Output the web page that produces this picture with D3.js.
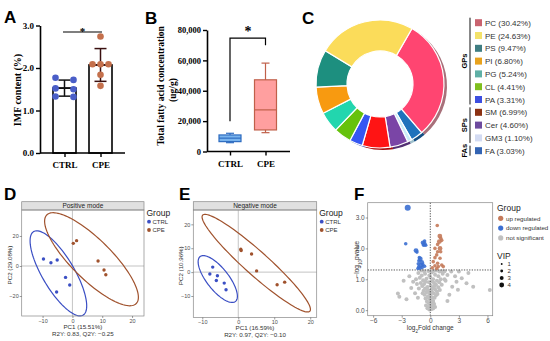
<!DOCTYPE html>
<html>
<head>
<meta charset="utf-8">
<script src="https://cdn.jsdelivr.net/npm/d3@7"></script>
<style>
  body { margin: 0; background: #fff; }
  svg { display: block; }
</style>
</head>
<body>
<div id="chart"></div>
<script>
// ---------- data ----------
const groups = ["CTRL", "CPE"];

// A: IMF content (%)
const imfCtrl = [1.77, 1.72, 1.52, 1.50, 1.33, 1.32];
const imfCpe = [2.74, 2.09, 2.09, 2.09, 1.84, 1.58];
const imfTicks = [0, 1, 2, 3];

// B: total fatty acid, [min, q1, median, q3, max]
const faCtrl = [5800, 6500, 8800, 10900, 12000];
const faCpe = [12400, 14200, 27400, 47200, 58200];
const faTicks = [0, 20000, 40000, 60000, 80000];

// C: lipid classes
const lipidNames = ["PC", "PE", "PS", "PI", "PG", "CL", "PA", "SM", "Cer", "GM3", "FA"];
const lipidPct = [30.42, 24.63, 9.47, 6.80, 5.24, 4.41, 3.31, 6.99, 4.60, 1.10, 3.03];
const lipidClass = ["GPs", "GPs", "GPs", "GPs", "GPs", "GPs", "GPs", "SPs", "SPs", "SPs", "FAs"];
const sliceOrder = ["PC", "FA", "GM3", "Cer", "SM", "PA", "CL", "PG", "PI", "PS", "PE"];
const legendColors = ["#c9636f", "#f3e26a", "#3f7d82", "#e8a21d", "#5fb0a6", "#7fbf1e", "#3d4fe0", "#8b3112", "#6e4b9e", "#d3dbf2", "#3364b3"];
const sliceColors = ["#ff4571", "#fbdc5a", "#1d8f7f", "#f89a10", "#22d6ae", "#66c20c", "#3557f2", "#ff1414", "#7a45a6", "#c9ecf8", "#1f72bc"];
const sliceShade = ["#a8707a", "#c9b048", "#2d6660", "#b5740c", "#1a9c80", "#4a8c0a", "#2640b0", "#a80d0d", "#532f73", "#9fc0cc", "#154f84"];

// D / E: PCA scores
const pcaPosCtrl = [[-9.7, 4.7], [-7.2, 2.2], [-5.1, 4.0], [-2.3, -7.6], [-0.9, -12.7], [-5.3, -17.3]];
const pcaPosCpe = [[0.3, 15.1], [1.4, 16.9], [8.6, 3.3], [10.6, -2.7], [11.2, -5.8]];
const pcaNegCtrl = [[-7.1, 2.1], [-7.9, -0.8], [-5.8, -1.5], [-6.1, -3.5], [-3.9, -4.6], [-3.4, -7.4]];
const pcaNegCpe = [[0.7, 9.6], [0.8, 9.0], [3.7, 7.6], [5.1, 0.5], [10.8, -5.3], [12.9, -4.2]];
// ellipse: centre, semi-major vector, semi-minor vector (data units)
const ellipsePos = [
  { g: "CTRL", c: [-4.7, -4.9], a: [8.3, -27.8], b: [-4.6, -5.5] },
  { g: "CPE", c: [6.4, 4.5], a: [15, -29.5], b: [-4.7, -9.5] }
];
const ellipseNeg = [
  { g: "CTRL", c: [-5.7, -2.9], a: [4.9, -9.4], b: [-2.4, -2.8] },
  { g: "CPE", c: [5.0, 3.75], a: [14.9, -20.1], b: [-2.2, -3.7] }
];

// F: volcano, [log2FC, -log10 p, VIP]
const volDown = [[-2.37, 3.32, 4], [-2.58, 2.15, 2], [-1.5, 1.93, 3], [-1.4, 1.88, 2], [-0.76, 2.18, 3], [-0.62, 2.14, 3],
  [-0.48, 2.1, 2], [-0.7, 2.1, 2], [-0.6, 2.24, 2], [-1.15, 1.70, 2], [-1.05, 1.66, 3], [-1.2, 1.6, 2], [-0.9, 1.55, 3],
  [-1.26, 1.5, 2], [-0.78, 1.48, 2], [-1.0, 1.45, 3], [-1.22, 1.40, 2], [-0.85, 1.38, 2], [-1.1, 1.36, 2], [-0.6, 1.42, 2], [-1.3, 1.35, 2]];
const volUp = [[0.73, 2.74, 2], [1.0, 2.4, 3], [1.1, 2.33, 2], [0.95, 2.22, 3], [1.2, 2.26, 2], [0.77, 2.13, 2], [0.49, 2.0, 2],
  [1.02, 2.0, 3], [0.77, 1.89, 2], [1.09, 1.89, 2], [0.67, 1.79, 2], [0.49, 1.70, 2], [1.02, 1.68, 2], [0.31, 1.57, 2],
  [0.77, 1.52, 2], [1.2, 1.46, 2], [0.49, 1.44, 2], [0.84, 1.41, 2], [1.36, 1.41, 2], [0.21, 1.37, 2], [0.67, 1.35, 2]];
const volNs = [[-0.1, 0.02], [0.1, 0.03], [0.0, 0.08], [-0.2, 0.1], [0.2, 0.12], [0.3, 0.05], [-0.3, 0.06], [0.05, 0.18],
  [-0.15, 0.22], [0.25, 0.25], [-0.35, 0.28], [0.4, 0.2], [0.1, 0.3], [-0.05, 0.35], [-0.45, 0.15], [0.5, 0.1],
  [-0.5, 0.38], [0.45, 0.4], [0.2, 0.42], [-0.25, 0.45], [0.6, 0.48], [-0.6, 0.5], [0.0, 0.5], [0.35, 0.55], [-0.4, 0.58],
  [0.15, 0.6], [-0.15, 0.62], [0.7, 0.6], [-0.7, 0.63], [0.5, 0.68], [-0.55, 0.7], [0.25, 0.72], [-0.3, 0.75], [0.85, 0.74],
  [-0.85, 0.78], [0.05, 0.8], [0.6, 0.82], [-0.65, 0.85], [0.4, 0.88], [-0.15, 0.9], [0.95, 0.9], [-1.0, 0.88],
  [0.7, 0.95], [-0.75, 0.97], [0.3, 1.0], [-0.4, 1.02], [1.1, 1.0], [-1.1, 1.05], [0.0, 1.07], [0.85, 1.1], [-0.9, 1.12],
  [0.5, 1.15], [-0.55, 1.18], [1.3, 1.18], [-1.25, 1.2], [0.15, 1.22], [0.95, 1.25], [-0.2, 1.27], [-0.95, 1.28],
  [0.6, 1.28], [1.5, 1.26], [-0.05, 0.55], [0.3, 0.3], [-0.2, 0.4], [0.1, 0.65], [-0.35, 0.68], [0.45, 0.78],
  [-0.5, 0.92], [0.2, 0.93], [-0.1, 1.12], [0.35, 1.27], [-0.65, 1.26], [0.75, 0.52], [-0.8, 0.55], [1.0, 0.65],
  [-1.2, 0.7], [1.2, 0.82], [-1.4, 0.85], [1.6, 0.95], [-1.5, 1.0], [-3.4, 0.54], [-3.25, 0.43], [-2.2, 1.1],
  [-1.8, 0.92], [-1.6, 0.55], [-2.0, 0.72], [2.6, 1.1], [2.75, 0.92], [3.3, 1.03], [3.8, 0.87], [4.5, 0.76],
  [2.9, 0.66], [6.25, 0.65], [2.3, 0.76], [1.8, 1.14], [1.2, 1.26], [1.5, 1.0], [2.0, 0.5], [-2.5, 0.35], [1.8, 0.3],
  [3.0, 1.25], [-1.3, 0.4], [4.0, 1.2], [2.2, 1.25], [-2.8, 0.95]];
const vipLevels = [1, 2, 3, 4];

// ---------- setup ----------
const serif = "'Liberation Serif','Times New Roman',serif";
const sans = "'Liberation Sans',Arial,sans-serif";
const svg = d3.select("#chart").append("svg").attr("width", 550).attr("height", 341);

function panelLabel(t, x, y) {
  svg.append("text").attr("x", x).attr("y", y).text(t)
    .style("font-family", sans).style("font-weight", "bold").style("font-size", "17px");
}
function styleBold(g) {
  g.select(".domain").attr("stroke", "#000").attr("stroke-width", 1.6);
  g.selectAll(".tick line").attr("stroke", "#000").attr("stroke-width", 1.4);
  g.selectAll(".tick text").style("font-family", serif).style("font-weight", "bold")
    .style("font-size", "9px").attr("fill", "#000");
}
function styleGg(g) {
  g.select(".domain").remove();
  g.selectAll(".tick line").attr("stroke", "#555").attr("stroke-width", 0.6);
  g.selectAll(".tick text").style("font-family", sans).style("font-size", "5.5px").attr("fill", "#4d4d4d");
}
const mean = a => d3.mean(a);
const sd = a => d3.deviation(a);

// spread equal-ish values horizontally
function dodge(vals) {
  const s = vals.slice().sort((a, b) => b - a);
  const out = [];
  let i = 0;
  while (i < s.length) {
    let j = i;
    while (j + 1 < s.length && s[j] - s[j + 1] < 0.08) j++;
    const n = j - i + 1, step = n === 2 ? 18 : 8;
    for (let k = 0; k < n; k++) out.push({ v: s[i + k], dx: (k - (n - 1) / 2) * step });
    i = j + 1;
  }
  return out;
}

// ---------- A ----------
panelLabel("A", 4, 23);
const yA = d3.scaleLinear().domain([0, 3]).range([153, 25.5]);
const xA = d3.scalePoint().domain(groups).range([64.5, 100.5]);
const dotColA = { CTRL: "#4a5ec8", CPE: "#c4704c" };
const imf = { CTRL: imfCtrl, CPE: imfCpe };

const gA = svg.append("g");
gA.selectAll("rect.bar").data(groups).enter().append("rect")
  .attr("x", d => xA(d) - 11.5).attr("width", 23)
  .attr("y", d => yA(mean(imf[d]))).attr("height", d => yA(0) - yA(mean(imf[d])))
  .attr("fill", "#fff").attr("stroke", "#000").attr("stroke-width", 1.6);

groups.forEach(gname => {
  const m = mean(imf[gname]), s = sd(imf[gname]), cx = xA(gname);
  const col = gname === "CTRL" ? "#111" : "#3a1010";
  gA.append("line").attr("x1", cx).attr("x2", cx).attr("y1", yA(m + s)).attr("y2", yA(m - s))
    .attr("stroke", col).attr("stroke-width", 1.5);
  [m + s, m - s].forEach(v => gA.append("line").attr("x1", cx - 6).attr("x2", cx + 6)
    .attr("y1", yA(v)).attr("y2", yA(v)).attr("stroke", col).attr("stroke-width", 1.5));
  gA.append("line").attr("x1", cx - 11).attr("x2", cx + 11).attr("y1", yA(m)).attr("y2", yA(m))
    .attr("stroke", col).attr("stroke-width", 1.5);
  gA.selectAll(null).data(dodge(imf[gname])).enter().append("circle")
    .attr("cx", d => cx + d.dx).attr("cy", d => yA(d.v)).attr("r", 3.3)
    .attr("fill", dotColA[gname]);
});

gA.append("g").attr("transform", "translate(40,0)")
  .call(d3.axisLeft(yA).tickValues(imfTicks).tickSize(4).tickSizeOuter(0).tickPadding(2))
  .call(styleBold);
const axA = gA.append("g").attr("transform", "translate(0,153)")
  .call(d3.axisBottom(xA).tickSize(4).tickSizeOuter(0).tickPadding(5)).call(styleBold);
axA.select(".domain").remove();
gA.append("line").attr("x1", 40).attr("x2", 125).attr("y1", 153).attr("y2", 153)
  .attr("stroke", "#000").attr("stroke-width", 1.6);
gA.append("text").attr("transform", "translate(21,90) rotate(-90)").attr("text-anchor", "middle")
  .style("font-family", serif).style("font-weight", "bold").style("font-size", "10px")
  .text("IMF content (%)");
gA.append("line").attr("x1", 63).attr("x2", 102).attr("y1", 32).attr("y2", 32)
  .attr("stroke", "#000").attr("stroke-width", 1.2);
gA.append("text").attr("x", 82.5).attr("y", 35).attr("text-anchor", "middle")
  .style("font-family", serif).style("font-weight", "bold").style("font-size", "11px").text("*");

// ---------- B ----------
panelLabel("B", 145, 24);
const yB = d3.scaleLinear().domain([0, 80000]).range([151.5, 30]);
const xB = d3.scalePoint().domain(groups).range([230, 265.5]);
const fa = { CTRL: faCtrl, CPE: faCpe };
const boxStyle = { CTRL: { fill: "#79b4ee", stroke: "#2e6cc0" }, CPE: { fill: "#ff9f9f", stroke: "#c0604a" } };
const gB = svg.append("g");
groups.forEach(gname => {
  const v = fa[gname], cx = xB(gname), st = boxStyle[gname], w = 22;
  gB.append("line").attr("x1", cx).attr("x2", cx).attr("y1", yB(v[4])).attr("y2", yB(v[0]))
    .attr("stroke", st.stroke).attr("stroke-width", 1.2);
  [v[0], v[4]].forEach(t => gB.append("line").attr("x1", cx - 4).attr("x2", cx + 4)
    .attr("y1", yB(t)).attr("y2", yB(t)).attr("stroke", st.stroke).attr("stroke-width", 1.2));
  gB.append("rect").attr("x", cx - w / 2).attr("width", w).attr("y", yB(v[3])).attr("height", yB(v[1]) - yB(v[3]))
    .attr("fill", st.fill).attr("stroke", st.stroke).attr("stroke-width", 1.2);
  gB.append("line").attr("x1", cx - w / 2).attr("x2", cx + w / 2).attr("y1", yB(v[2])).attr("y2", yB(v[2]))
    .attr("stroke", st.stroke).attr("stroke-width", 1.2);
});
gB.append("g").attr("transform", "translate(207,0)")
  .call(d3.axisLeft(yB).tickValues(faTicks).tickFormat(d3.format(",")).tickSize(4).tickSizeOuter(0).tickPadding(2))
  .call(styleBold);
gB.selectAll(".tick text").style("font-size", "8.5px");
const axB = gB.append("g").attr("transform", "translate(0,151.5)")
  .call(d3.axisBottom(xB).tickSize(4).tickSizeOuter(0).tickPadding(5)).call(styleBold);
axB.select(".domain").remove();
gB.append("line").attr("x1", 207).attr("x2", 290).attr("y1", 151.5).attr("y2", 151.5)
  .attr("stroke", "#000").attr("stroke-width", 1.6);
gB.append("text").attr("transform", "translate(164,86) rotate(-90)").attr("text-anchor", "middle")
  .style("font-family", serif).style("font-weight", "bold").style("font-size", "9.5px")
  .text("Total fatty acid concentration");
gB.append("text").attr("transform", "translate(176,90) rotate(-90)").attr("text-anchor", "middle")
  .style("font-family", serif).style("font-weight", "bold").style("font-size", "9.5px")
  .text("(ug/g)");
gB.append("path")
  .attr("d", `M${xB("CTRL")},${yB(20000)}V${yB(74700)}H${xB("CPE")}V${yB(70000)}`)
  .attr("fill", "none").attr("stroke", "#000").attr("stroke-width", 1.2);
gB.append("text").attr("x", 248).attr("y", 36).attr("text-anchor", "middle")
  .style("font-family", serif).style("font-weight", "bold").style("font-size", "14px").text("*");

// ---------- C ----------
panelLabel("C", 302, 24);
const lipids = lipidNames.map((n, i) => ({ name: n, pct: lipidPct[i], cls: lipidClass[i], i }));
const pie = d3.pie().sort(null).value(d => d.pct)
  .startAngle(Math.PI / 6).endAngle(Math.PI / 6 + 2 * Math.PI);
const arcs = pie(sliceOrder.map(n => lipids.find(l => l.name === n)));
const cxC = 380, cyC = 84, rOut = 64, rIn = 33;
const arcMain = d3.arc().innerRadius(rIn).outerRadius(rOut);
const arcRim = d3.arc().innerRadius(rOut - 10).outerRadius(rOut);
svg.append("g").attr("transform", `translate(${cxC + 3},${cyC + 2})`)
  .selectAll("path").data(arcs).enter().append("path")
  .attr("d", arcRim).attr("fill", d => sliceShade[d.data.i]);
svg.append("g").attr("transform", `translate(${cxC},${cyC})`)
  .selectAll("path").data(arcs).enter().append("path")
  .attr("d", arcMain).attr("fill", d => sliceColors[d.data.i])
  .attr("stroke", "#fff").attr("stroke-width", 1.2);

const yLeg = d3.scalePoint().domain(lipidNames).range([22.7, 150.7]);
const gC = svg.append("g");
gC.selectAll("rect").data(lipids).enter().append("rect")
  .attr("x", 475).attr("y", d => yLeg(d.name) - 3.5).attr("width", 7).attr("height", 7)
  .attr("fill", d => legendColors[d.i]);
gC.selectAll("text.lab").data(lipids).enter().append("text")
  .attr("x", 485).attr("y", d => yLeg(d.name) + 3)
  .style("font-family", sans).style("font-size", "8px").attr("fill", "#333")
  .text(d => `${d.name} (${d.pct.toFixed(2)}%)`);
["GPs", "SPs", "FAs"].forEach(c => {
  const mem = lipids.filter(l => l.cls === c);
  const y0 = yLeg(mem[0].name) - 5, y1 = yLeg(mem[mem.length - 1].name) + 5;
  gC.append("line").attr("x1", 470).attr("x2", 470).attr("y1", y0).attr("y2", y1)
    .attr("stroke", "#111").attr("stroke-width", 1);
  gC.append("text").attr("transform", `translate(467,${(y0 + y1) / 2}) rotate(-90)`)
    .attr("text-anchor", "middle").style("font-family", sans).style("font-weight", "bold")
    .style("font-size", "7.5px").text(c);
});

// ---------- D / E ----------
const pcaCol = { CTRL: "#3b4fc4", CPE: "#a0522d" };
function drawPca(o) {
  const g = svg.append("g");
  const x = d3.scaleLinear().domain(o.xd).range([o.l, o.r]);
  const y = d3.scaleLinear().domain(o.yd).range([o.b, o.t]);
  g.append("rect").attr("x", o.l).attr("y", o.t - 8.3).attr("width", o.r - o.l).attr("height", 8.3)
    .attr("fill", "#e0e0e0").attr("stroke", "#888").attr("stroke-width", 0.7);
  g.append("text").attr("x", (o.l + o.r) / 2).attr("y", o.t - 2).attr("text-anchor", "middle")
    .style("font-family", sans).style("font-size", "6.5px").attr("fill", "#222").text(o.strip);
  g.append("line").attr("x1", x(0)).attr("x2", x(0)).attr("y1", o.t).attr("y2", o.b).attr("stroke", "#aaa").attr("stroke-width", 0.7);
  g.append("line").attr("x1", o.l).attr("x2", o.r).attr("y1", y(0)).attr("y2", y(0)).attr("stroke", "#aaa").attr("stroke-width", 0.7);
  const line = d3.line().x(p => x(p[0])).y(p => y(p[1])).curve(d3.curveLinearClosed);
  o.ell.forEach(e => {
    const pts = d3.range(0, 2 * Math.PI, Math.PI / 60).map(t => [
      e.c[0] + e.a[0] * Math.cos(t) + e.b[0] * Math.sin(t),
      e.c[1] + e.a[1] * Math.cos(t) + e.b[1] * Math.sin(t)]);
    g.append("path").attr("d", line(pts)).attr("fill", "none").attr("stroke", pcaCol[e.g]).attr("stroke-width", 1.2);
  });
  [["CTRL", o.ctrl], ["CPE", o.cpe]].forEach(([gn, pts]) => {
    g.selectAll(null).data(pts).enter().append("circle")
      .attr("cx", p => x(p[0])).attr("cy", p => y(p[1])).attr("r", 1.7).attr("fill", pcaCol[gn]);
  });
  g.append("rect").attr("x", o.l).attr("y", o.t).attr("width", o.r - o.l).attr("height", o.b - o.t)
    .attr("fill", "none").attr("stroke", "#888").attr("stroke-width", 0.7);
  g.append("g").attr("transform", `translate(0,${o.b})`)
    .call(d3.axisBottom(x).tickValues(o.xt).tickSize(2).tickPadding(0.8).tickFormat(d3.format("d"))).call(styleGg);
  g.append("g").attr("transform", `translate(${o.l},0)`)
    .call(d3.axisLeft(y).tickValues(o.yt).tickSize(2).tickPadding(1).tickFormat(d3.format("d"))).call(styleGg);
  const cxT = (o.l + o.r) / 2;
  g.append("text").attr("x", cxT).attr("y", o.b + 12.5).attr("text-anchor", "middle")
    .style("font-family", sans).style("font-size", "6.2px").attr("fill", "#333").text(o.xlab);
  g.append("text").attr("x", cxT).attr("y", o.b + 19.5).attr("text-anchor", "middle")
    .style("font-family", sans).style("font-size", "6.2px").attr("fill", "#333").text(o.sub);
  g.append("text").attr("transform", `translate(${o.l - 10},${(o.t + o.b) / 2 + 2}) rotate(-90)`)
    .attr("text-anchor", "middle").style("font-family", sans).style("font-size", "6.2px").attr("fill", "#333").text(o.ylab);
  g.append("text").attr("x", o.r + 2.5).attr("y", o.t + 6).style("font-family", sans).style("font-size", "8.5px")
    .attr("fill", "#222").text("Group");
  groups.forEach((gn, i) => {
    g.append("circle").attr("cx", o.r + 5).attr("cy", o.t + 11.7 + i * 8.3).attr("r", 1.9).attr("fill", pcaCol[gn]);
    g.append("text").attr("x", o.r + 8.5).attr("y", o.t + 14 + i * 8.3).style("font-family", sans)
      .style("font-size", "6px").attr("fill", "#333").text(gn);
  });
}

panelLabel("D", 4, 200);
drawPca({
  l: 21.7, r: 144, t: 210, b: 316, xd: [-17, 24], yd: [-33.3, 37.3],
  xt: [-10, 0, 10, 20], yt: [-20, 0, 20], strip: "Positive mode",
  ctrl: pcaPosCtrl, cpe: pcaPosCpe, ell: ellipsePos,
  xlab: "PC1 (15.51%)", sub: "R2Y: 0.83, Q2Y: \u22120.25", ylab: "PC2 (29.08%)"
});
panelLabel("E", 179, 200);
drawPca({
  l: 193.3, r: 316.7, t: 210, b: 317.5, xd: [-12.5, 21.8], yd: [-19, 26],
  xt: [-10, 0, 10, 20], yt: [-10, 0, 10, 20], strip: "Negative mode",
  ctrl: pcaNegCtrl, cpe: pcaNegCpe, ell: ellipseNeg,
  xlab: "PC1 (16.59%)", sub: "R2Y: 0.97, Q2Y: \u22120.10", ylab: "PC2 (10.96%)"
});

// ---------- F ----------
panelLabel("F", 354, 200);
const gF = svg.append("g");
const lF = 367.7, rF = 492.7, tF = 202.7, bF = 315.7;
const xF = d3.scaleLinear().domain([-6.57, 6.55]).range([lF, rF]);
const yF = d3.scaleLinear().domain([-0.18, 3.48]).range([bF, tF]);
const rVip = d3.scaleLinear().domain([1, 4]).range([1.2, 3]);
const volCol = { up: "#c47a5a", down: "#3b6fd1", ns: "#c0c0c0" };
gF.selectAll("circle.ns").data(volNs).enter().append("circle")
  .attr("cx", d => xF(d[0])).attr("cy", d => yF(d[1])).attr("r", 2).attr("fill", volCol.ns);
gF.append("line").attr("x1", xF(0)).attr("x2", xF(0)).attr("y1", tF).attr("y2", bF)
  .attr("stroke", "#444").attr("stroke-width", 0.9).attr("stroke-dasharray", "1.3,1.3");
gF.append("line").attr("x1", lF).attr("x2", rF).attr("y1", yF(-Math.log10(0.05))).attr("y2", yF(-Math.log10(0.05)))
  .attr("stroke", "#444").attr("stroke-width", 0.9).attr("stroke-dasharray", "1.3,1.3");
gF.selectAll("circle.dn").data(volDown).enter().append("circle")
  .attr("cx", d => xF(d[0])).attr("cy", d => yF(d[1])).attr("r", d => rVip(d[2]))
  .attr("fill", volCol.down).attr("fill-opacity", 0.9);
gF.selectAll("circle.up").data(volUp).enter().append("circle")
  .attr("cx", d => xF(d[0])).attr("cy", d => yF(d[1])).attr("r", d => rVip(d[2]))
  .attr("fill", volCol.up).attr("fill-opacity", 0.9);
gF.append("rect").attr("x", lF).attr("y", tF).attr("width", rF - lF).attr("height", bF - tF)
  .attr("fill", "none").attr("stroke", "#888").attr("stroke-width", 0.7);
gF.append("g").attr("transform", `translate(0,${bF})`)
  .call(d3.axisBottom(xF).tickValues([-6, -3, 0, 3, 6]).tickSize(2).tickPadding(1)).call(styleGg);
gF.append("g").attr("transform", `translate(${lF},0)`)
  .call(d3.axisLeft(yF).tickValues([0, 1, 2, 3]).tickSize(2).tickPadding(1)).call(styleGg);
gF.selectAll(".tick text").style("font-size", "6.5px");
const xlabF = gF.append("text").attr("x", (lF + rF) / 2).attr("y", 330).attr("text-anchor", "middle")
  .style("font-family", sans).style("font-size", "6.5px").attr("fill", "#333");
xlabF.append("tspan").text("log");
xlabF.append("tspan").attr("baseline-shift", "sub").style("font-size", "4.5px").text("2");
xlabF.append("tspan").text("Fold change");
const ylabF = gF.append("text").attr("transform", `translate(359,${(tF + bF) / 2}) rotate(-90)`)
  .attr("text-anchor", "middle").style("font-family", sans).style("font-size", "6.5px").attr("fill", "#333");
ylabF.append("tspan").text("\u2212log");
ylabF.append("tspan").attr("baseline-shift", "sub").style("font-size", "4.5px").text("10");
ylabF.append("tspan").text("pvalue");

gF.append("text").attr("x", 497).attr("y", 211).style("font-family", sans).style("font-size", "8.5px")
  .attr("fill", "#222").text("Group");
[["up", "up regulated"], ["down", "down regulated"], ["ns", "not significant"]].forEach(([k, t], i) => {
  gF.append("circle").attr("cx", 500.7).attr("cy", 218.3 + i * 9.8).attr("r", 2.6).attr("fill", volCol[k]);
  gF.append("text").attr("x", 506).attr("y", 220.6 + i * 9.8).style("font-family", sans)
    .style("font-size", "6.2px").attr("fill", "#333").text(t);
});
gF.append("text").attr("x", 497).attr("y", 258.5).style("font-family", sans).style("font-size", "8.5px")
  .attr("fill", "#222").text("VIP");
vipLevels.forEach((v, i) => {
  gF.append("circle").attr("cx", 501.7).attr("cy", 264 + i * 7).attr("r", rVip(v) * 0.8).attr("fill", "#111");
  gF.append("text").attr("x", 507.5).attr("y", 266.2 + i * 7).style("font-family", sans)
    .style("font-size", "6px").attr("fill", "#333").text(v);
});
</script>
</body>
</html>
